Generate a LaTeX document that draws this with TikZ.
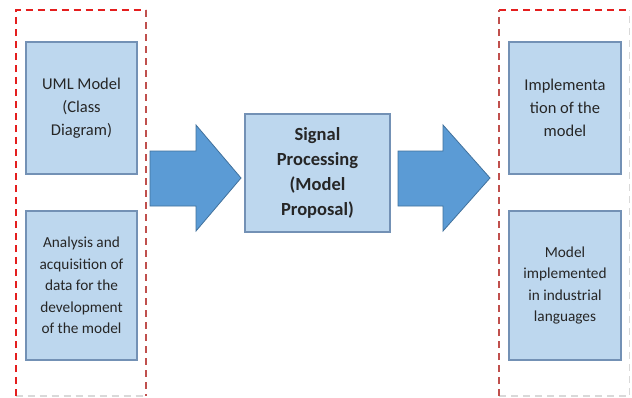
\documentclass[tikz,border=0pt]{standalone}
\usepackage{fontspec}
\setmainfont{Carlito}
\definecolor{boxfill}{HTML}{BDD7EE}
\definecolor{boxline}{HTML}{7391B5}
\definecolor{arrfill}{HTML}{5B9BD5}
\definecolor{arrline}{HTML}{41719C}
\definecolor{redA}{HTML}{E41E1E}
\definecolor{redB}{HTML}{C0504D}
\definecolor{greyd}{HTML}{D9D9D9}
\definecolor{txt}{HTML}{262626}
\begin{document}
\begin{tikzpicture}[x=1pt,y=-1pt,
  box/.style={draw=boxline,fill=boxfill,line width=1.3pt,rectangle,inner sep=0pt,align=center,text=txt},
  bigarrow/.style={draw=arrline,fill=arrfill,line width=0.8pt,line join=miter},
  reddash/.style={draw=redA,line width=2pt,dash pattern=on 7pt off 5pt},
  darkdash/.style={draw=redB,line width=2pt,dash pattern=on 7pt off 5pt},
  greydash/.style={draw=greyd,line width=1.5pt,dash pattern=on 7pt off 5pt},
  ftop/.style={font=\fontsize{16.5}{23}\selectfont},
  fbot/.style={font=\fontsize{15.3}{21.5}\selectfont},
  fmid/.style={font=\bfseries\fontsize{18.5}{25}\selectfont}]
\useasboundingbox (0,0) rectangle (632,397);
\fill[white] (0,0) rectangle (632,397);
% left dashed group
\coordinate (LA) at (15.5,10);
\coordinate (LB) at (145.5,10);
\coordinate (LC) at (145.5,396);
\coordinate (LD) at (15.5,396);
\draw[greydash] (LD) -- (LC);
\draw[reddash] (LD) -- (LA) -- (LB);
\draw[darkdash] (LB) -- (LC);
% right dashed group
\coordinate (RA) at (499,10);
\coordinate (RB) at (629.5,10);
\coordinate (RC) at (629.5,396);
\coordinate (RD) at (499,396);
\draw[greydash] (RD) -- (RC) -- (RB);
\draw[reddash] (RA) -- (RB);
\draw[darkdash] (RD) -- (RA);
% boxes
\node[box,ftop,minimum width=111pt,minimum height=132pt] (uml) at (81.5,108) {UML Model\\(Class\\Diagram)};
\node[box,fbot,minimum width=111pt,minimum height=149pt] (ana) at (81.5,285.5) {Analysis and\\acquisition of\\data for the\\development\\of the model};
\node[box,fmid,minimum width=145pt,minimum height=118pt] (sig) at (317.5,173) {Signal\\Processing\\(Model\\Proposal)};
\node[box,ftop,minimum width=112pt,minimum height=132pt] (imp) at (565,108) {Implementa\\tion of the\\model};
\node[box,fbot,minimum width=112pt,minimum height=149pt] (ind) at (565,285.5) {Model\\implemented\\in industrial\\languages};
% block arrows
\draw[bigarrow] (150,151) -- (196,151) -- (196,125) -- (241,178) -- (196,231) -- (196,206) -- (150,206) -- cycle;
\draw[bigarrow] (398,151) -- (443,151) -- (443,125) -- (490,178) -- (443,231) -- (443,206) -- (398,206) -- cycle;
\end{tikzpicture}
\end{document}
